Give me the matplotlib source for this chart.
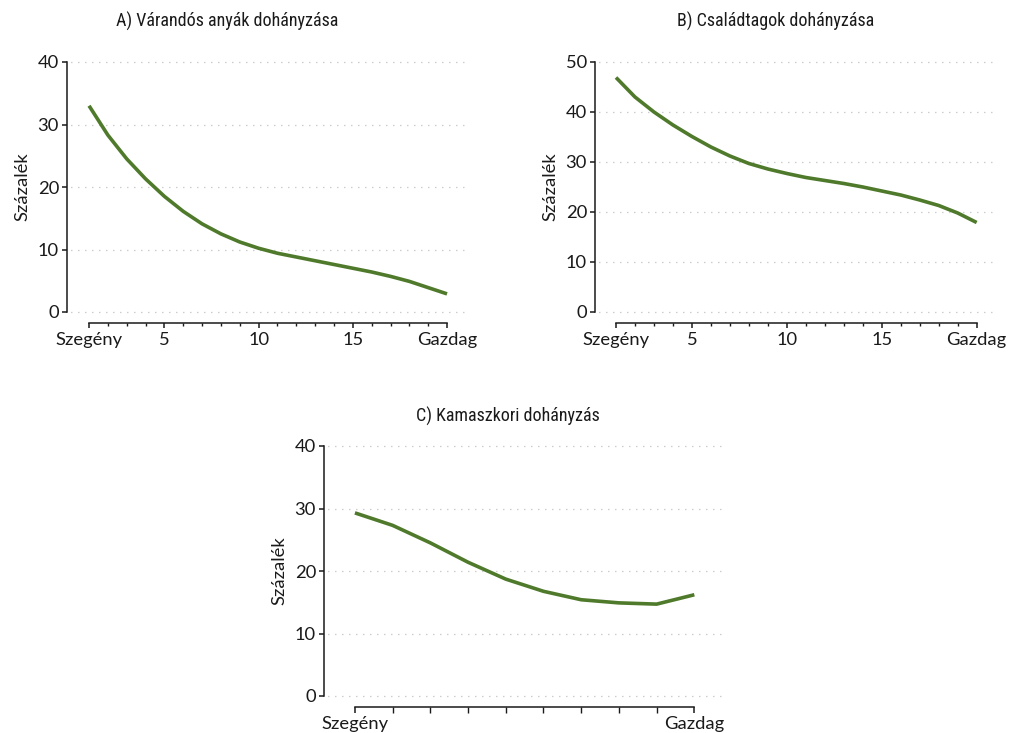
import matplotlib
matplotlib.use("Agg")
import matplotlib.pyplot as plt
from matplotlib import font_manager as fm

W, H = 1011, 733
fig = plt.figure(figsize=(W / 100, H / 100), dpi=100)

ventiles = list(range(1, 21))
deciles = list(range(1, 11))

a_values = [33.0, 28.3, 24.5, 21.3, 18.5, 16.1, 14.1, 12.5, 11.2, 10.2,
            9.4, 8.8, 8.2, 7.6, 7.0, 6.4, 5.7, 4.9, 3.9, 2.9]
b_values = [46.9, 43.0, 40.0, 37.4, 35.1, 33.0, 31.2, 29.7, 28.6, 27.7,
            26.9, 26.3, 25.7, 25.0, 24.2, 23.4, 22.4, 21.3, 19.8, 17.9]
c_values = [29.3, 27.3, 24.5, 21.4, 18.7, 16.75, 15.4, 14.9, 14.7, 16.2]

titles = ["A) Várandós anyák dohányzása", "B) Családtagok dohányzása",
          "C) Kamaszkori dohányzás"]
ylabel = "Százalék"
poor, rich = "Szegény", "Gazdag"

names = {f.name for f in fm.fontManager.ttflist}


def pick(cands):
    for c in cands:
        if c in names:
            return [c, "DejaVu Sans"]
    return ["DejaVu Sans"]


title_font = pick(["Roboto Condensed", "Archivo Narrow", "PT Sans Narrow",
                   "IBM Plex Sans Condensed", "Liberation Sans Narrow"])
tick_font = pick(["Lato", "Cabin", "Open Sans"])
plt.rcParams["font.family"] = tick_font

LINE = "#4f7a2b"
INK = "#1a1a1a"
FS = 13.2
PT = 72 / 100  # points per pixel at 100 dpi


def px_axes(left, right, top, bottom):
    return fig.add_axes([left / W, 1 - bottom / H, (right - left) / W, (bottom - top) / H])


def panel(ax, x, y, xlim, ymax, ystep, xmajor, xlabels, title, title_x, title_y,
          off_px, maj_px, min_px):
    ax.plot(x, y, color=LINE, lw=2.6, solid_capstyle="butt", zorder=3)
    ax.set_xlim(*xlim)
    ax.set_ylim(0, ymax)
    yt = list(range(0, ymax + 1, ystep))
    ax.set_yticks(yt)
    ax.set_yticklabels([str(v) for v in yt])
    for v in yt:
        ax.axhline(v, xmin=0.01, color="#9a9a9a", lw=0.9, ls=(0, (0.6, 5.0)),
                   zorder=1, clip_on=False)
    ax.set_xticks(x, minor=True)
    ax.set_xticks(xmajor)
    ax.set_xticklabels(xlabels)
    ax.tick_params(axis="both", which="both", labelsize=FS, labelcolor=INK)
    ax.tick_params(axis="x", which="major", length=maj_px * PT, width=1.1,
                   color=INK, pad=(9 - maj_px) * PT)
    ax.tick_params(axis="x", which="minor", length=min_px * PT, width=1.0, color=INK)
    ax.tick_params(axis="y", length=5 * PT, width=1.1, color=INK, pad=3 * PT)
    for s in ("top", "right"):
        ax.spines[s].set_visible(False)
    for s in ("left", "bottom"):
        ax.spines[s].set_color(INK)
        ax.spines[s].set_linewidth(1.1)
    ax.spines["bottom"].set_position(("outward", off_px * PT))
    ax.spines["bottom"].set_bounds(x[0], x[-1])
    ax.spines["left"].set_bounds(0, ymax)
    ax.set_ylabel(ylabel, fontsize=FS, color=INK, labelpad=5)
    fig.text(title_x / W, 1 - title_y / H, title, family=title_font, fontsize=13,
             ha="center", va="center", color=INK)


axA = px_axes(67, 467, 62, 312)
panel(axA, ventiles, a_values, (-0.17, 21.06), 40, 10, [1, 5, 10, 15, 20],
      [poor, "5", "10", "15", rich], titles[0], 227, 21, 11, 5, 3)

axB = px_axes(595, 993, 62, 312)
panel(axB, ventiles, b_values, (-0.106, 20.86), 50, 10, [1, 5, 10, 15, 20],
      [poor, "5", "10", "15", rich], titles[1], 776, 21, 11, 5, 3)

axC = px_axes(324, 723, 446, 696)
panel(axC, deciles, c_values, (0.18, 10.76), 40, 10, [1, 10],
      [poor, rich], titles[2], 508, 416, 11, 6, 6)

fig.savefig("out.png", dpi=100, facecolor="white")
